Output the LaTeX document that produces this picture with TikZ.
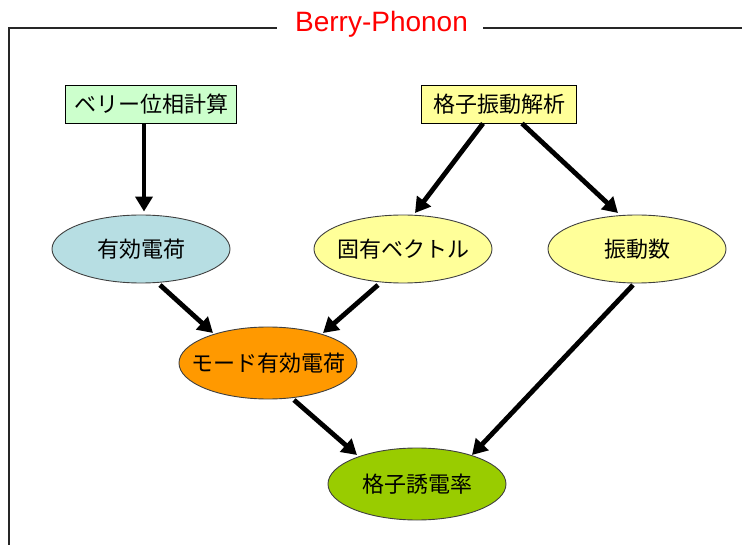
\documentclass[tikz,border=0pt]{standalone}
\usepackage{fontspec}
\setmainfont{Liberation Sans}
\newfontfamily\jp{Noto Sans CJK JP}
\usetikzlibrary{shapes.geometric,arrows.meta,calc}
\definecolor{boxgreen}{HTML}{CCFFCC}
\definecolor{paleyellow}{HTML}{FFFF99}
\definecolor{paleblue}{HTML}{B7DEE3}
\definecolor{modeorange}{HTML}{FF9900}
\definecolor{yudengreen}{HTML}{99CC00}
\definecolor{titlered}{HTML}{FF0000}
\newcommand{\fixw}[1]{\makebox[0pt][c]{#1}}
\tikzset{
  rectbox/.style={draw=black, line width=0.9pt, rectangle, inner sep=0pt, minimum height=38pt, font=\jp\fontsize{22}{24}\selectfont},
  ellbox/.style={draw=black!75, line width=0.9pt, ellipse, inner sep=0pt, minimum width=178pt, font=\jp\fontsize{22}{24}\selectfont},
  arr/.style={line width=4.8pt, -{Triangle[length=15pt,width=17pt]}, black},
  frameline/.style={line width=1.3pt, black!85}
}
\begin{document}
\begin{tikzpicture}[x=1pt,y=-1pt]
\useasboundingbox (0,0) rectangle (742,545);
% frame and title
\node[font=\fontsize{28}{32}\selectfont, text=titlered, anchor=base, inner sep=0pt] (title) at (381.5,32) {Berry-Phonon};
\coordinate (fl) at (9,545);
\coordinate (ft) at (9,28);
\coordinate (fa) at (277,28);
\coordinate (fb) at (483,28);
\coordinate (fr) at (742,28);
\draw[frameline] (fl) -- (ft) -- (fa);
\draw[frameline] (fb) -- (fr);
% nodes
\node[rectbox, fill=boxgreen, minimum width=171pt] (berry) at (151,104) {\fixw{ベリー位相計算}};
\node[rectbox, fill=paleyellow, minimum width=155pt] (kaiseki) at (499,104) {\fixw{格子振動解析}};
\node[ellbox, fill=paleblue, minimum height=68pt] (yuko) at (141,249) {\fixw{有効電荷}};
\node[ellbox, fill=paleyellow, minimum height=68pt] (koyu) at (403,249) {\fixw{固有ベクトル}};
\node[ellbox, fill=paleyellow, minimum height=68pt] (shindo) at (637,249) {\fixw{振動数}};
\node[ellbox, fill=modeorange, minimum height=72pt] (mode) at (268,363) {\fixw{モード有効電荷}};
\node[ellbox, fill=yudengreen, minimum height=72pt] (yuden) at (417,484) {\fixw{格子誘電率}};
% arrows
\draw[arr] ($(berry.south)+(-7,0)$) -- ($(yuko.north)+(3,-3)$);
\draw[arr] ($(kaiseki.south)+(-16,0)$) -- ($(koyu.center)+(12,-36)$);
\draw[arr] ($(kaiseki.south)+(23,0)$) -- ($(shindo.center)+(-19,-36)$);
\draw[arr] ($(yuko.center)+(19,36)$) -- ($(mode.center)+(-55,-30)$);
\draw[arr] ($(koyu.center)+(-25,36)$) -- ($(mode.center)+(55,-30)$);
\draw[arr] ($(mode.center)+(26,37)$) -- ($(yuden.center)+(-60,-29)$);
\draw[arr] ($(shindo.center)+(-4,36)$) -- ($(yuden.center)+(55,-29)$);
\end{tikzpicture}
\end{document}
